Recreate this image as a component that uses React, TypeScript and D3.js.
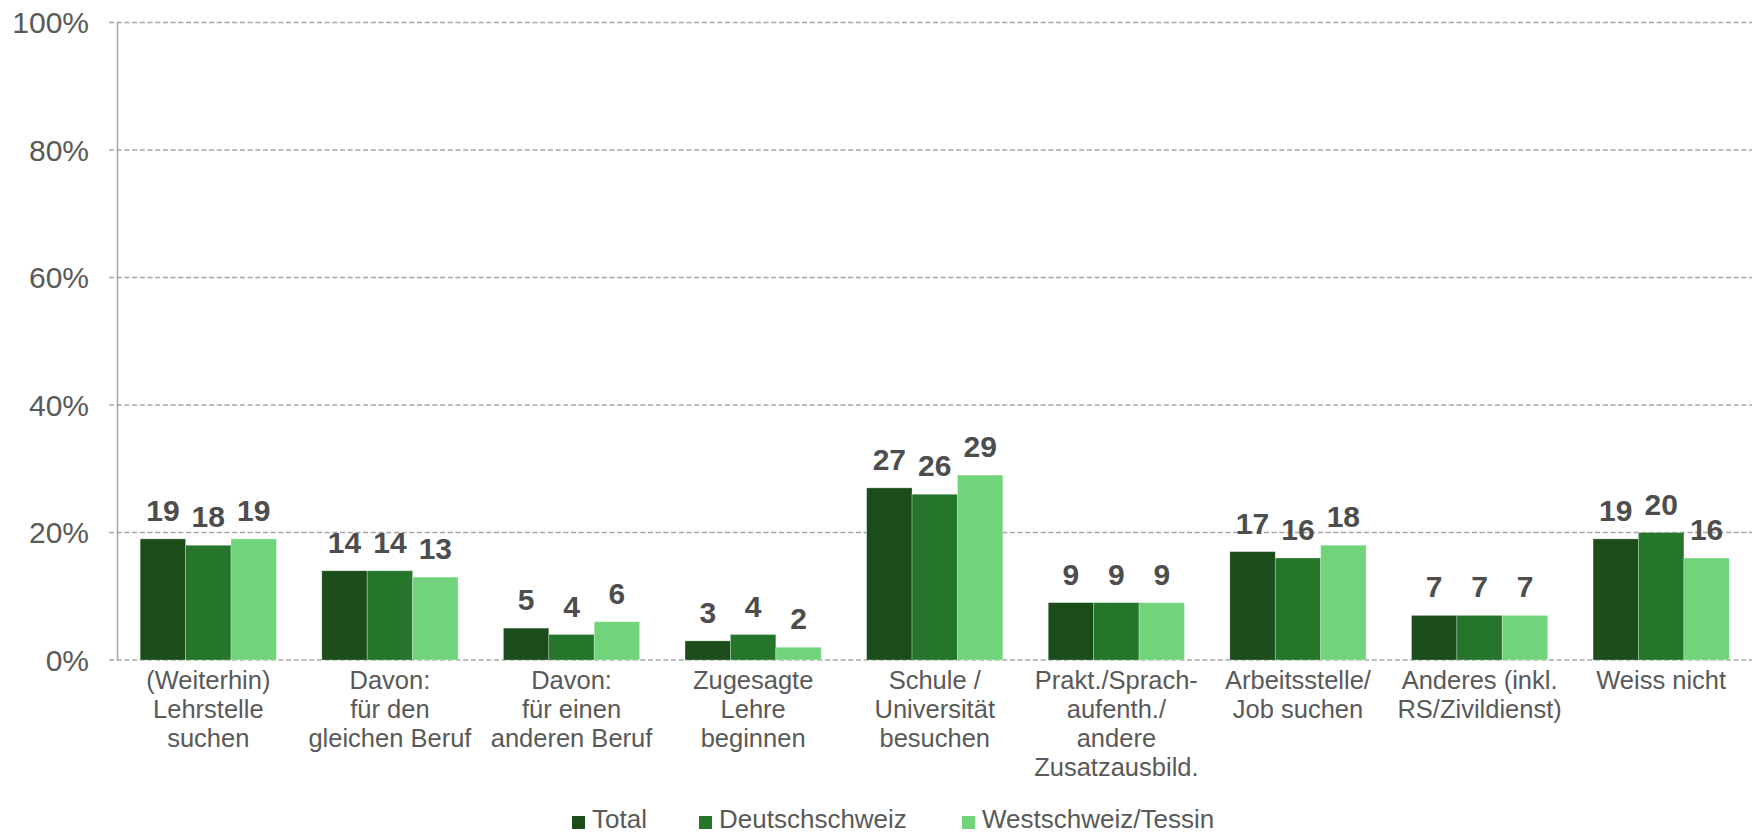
import React, { useEffect, useRef } from 'react';
import * as d3 from 'd3';

const categories: string[][] = [
  ['(Weiterhin)', 'Lehrstelle', 'suchen'],
  ['Davon:', 'für den', 'gleichen Beruf'],
  ['Davon:', 'für einen', 'anderen Beruf'],
  ['Zugesagte', 'Lehre', 'beginnen'],
  ['Schule /', 'Universität', 'besuchen'],
  ['Prakt./Sprach-', 'aufenth./', 'andere', 'Zusatzausbild.'],
  ['Arbeitsstelle/', 'Job suchen'],
  ['Anderes (inkl.', 'RS/Zivildienst)'],
  ['Weiss nicht'],
];

const seriesNames = ['Total', 'Deutschschweiz', 'Westschweiz/Tessin'];
const total = [19, 14, 5, 3, 27, 9, 17, 7, 19];
const deutschschweiz = [18, 14, 4, 4, 26, 9, 16, 7, 20];
const westschweiz = [19, 13, 6, 2, 29, 9, 18, 7, 16];
const yTicks = [0, 20, 40, 60, 80, 100];

const colors = ['#1b4d1b', '#25762b', '#72d47a'];

const App: React.FC = () => {
  const svgRef = useRef<SVGSVGElement>(null);

  useEffect(() => {
    if (!svgRef.current) return;
    const width = 1761;
    const height = 834;
    const margin = { top: 22.5, right: 9, bottom: 174, left: 117.5 };
    const innerW = width - margin.left - margin.right;
    const innerH = height - margin.top - margin.bottom;

    const svg = d3.select(svgRef.current);
    svg.selectAll('*').remove();
    const g = svg.append('g').attr('transform', `translate(${margin.left},${margin.top})`);

    const series = [total, deutschschweiz, westschweiz];
    const idx = categories.map((_, i) => i);

    const x0 = d3.scaleBand<number>().domain(idx).range([0, innerW]).paddingInner(0.25).paddingOuter(0.125);
    const x1 = d3.scaleBand<number>().domain([0, 1, 2]).range([0, x0.bandwidth()]);
    const y = d3.scaleLinear().domain([0, 100]).range([innerH, 0]);

    // gridlines (dashed, with a short tick left of the axis)
    g.append('g')
      .selectAll('line')
      .data(yTicks)
      .join('line')
      .attr('x1', -8.5).attr('x2', innerW)
      .attr('y1', d => y(d)).attr('y2', d => y(d))
      .attr('stroke', '#a6a6a6').attr('stroke-width', 1.3)
      .attr('stroke-dasharray', '5,2.7');

    // y axis line
    g.append('line')
      .attr('x1', 0).attr('x2', 0).attr('y1', y(100)).attr('y2', y(0))
      .attr('stroke', '#a6a6a6').attr('stroke-width', 1.5);

    // y labels
    g.append('g')
      .selectAll('text')
      .data(yTicks)
      .join('text')
      .attr('x', -28.5).attr('y', d => y(d)).attr('dy', '0.36em')
      .attr('text-anchor', 'end')
      .attr('font-family', 'Liberation Sans, Arial, sans-serif')
      .attr('font-size', 30).attr('fill', '#595959')
      .text(d => `${d}%`);

    // bars
    const groups = g.append('g')
      .selectAll('g')
      .data(idx)
      .join('g')
      .attr('transform', i => `translate(${x0(i)},0)`);

    series.forEach((vals, s) => {
      groups.append('rect')
        .attr('x', x1(s)!).attr('width', x1.bandwidth())
        .attr('y', i => y(vals[i])).attr('height', i => y(0) - y(vals[i]))
        .attr('fill', colors[s])
        .attr('stroke', '#ffffff').attr('stroke-opacity', 0.35).attr('stroke-width', 0.8);

      groups.append('text')
        .attr('x', x1(s)! + x1.bandwidth() / 2)
        .attr('y', i => y(vals[i]) - 18)
        .attr('text-anchor', 'middle')
        .attr('font-family', 'Liberation Sans, Arial, sans-serif')
        .attr('font-size', 30).attr('font-weight', 'bold').attr('fill', '#4d4d4d')
        .text(i => vals[i]);
    });

    // category labels
    const catText = g.append('g')
      .selectAll('text')
      .data(idx)
      .join('text')
      .attr('x', i => x0(i)! + x0.bandwidth() / 2)
      .attr('y', innerH + 29)
      .attr('text-anchor', 'middle')
      .attr('font-family', 'Liberation Sans, Arial, sans-serif')
      .attr('font-size', 25.5).attr('fill', '#595959');
    catText.each(function (i) {
      const t = d3.select(this);
      categories[i].forEach((line, k) => {
        t.append('tspan')
          .attr('x', x0(i)! + x0.bandwidth() / 2)
          .attr('dy', k === 0 ? 0 : 29)
          .text(line);
      });
    });

    // legend
    const legendX = [572, 699, 962];
    const legend = svg.append('g');
    seriesNames.forEach((name, s) => {
      legend.append('rect')
        .attr('x', legendX[s]).attr('y', 816).attr('width', 13).attr('height', 13)
        .attr('fill', colors[s]);
      legend.append('text')
        .attr('x', legendX[s] + 20).attr('y', 828)
        .attr('font-family', 'Liberation Sans, Arial, sans-serif')
        .attr('font-size', 26).attr('fill', '#595959')
        .text(name);
    });
  }, []);

  return (
    <div style={{ position: 'fixed', left: 0, top: 0, width: 1761, height: 834, background: '#fff' }}>
      <svg ref={svgRef} width={1761} height={834} viewBox="0 0 1761 834"></svg>
    </div>
  );
};

export default App;
